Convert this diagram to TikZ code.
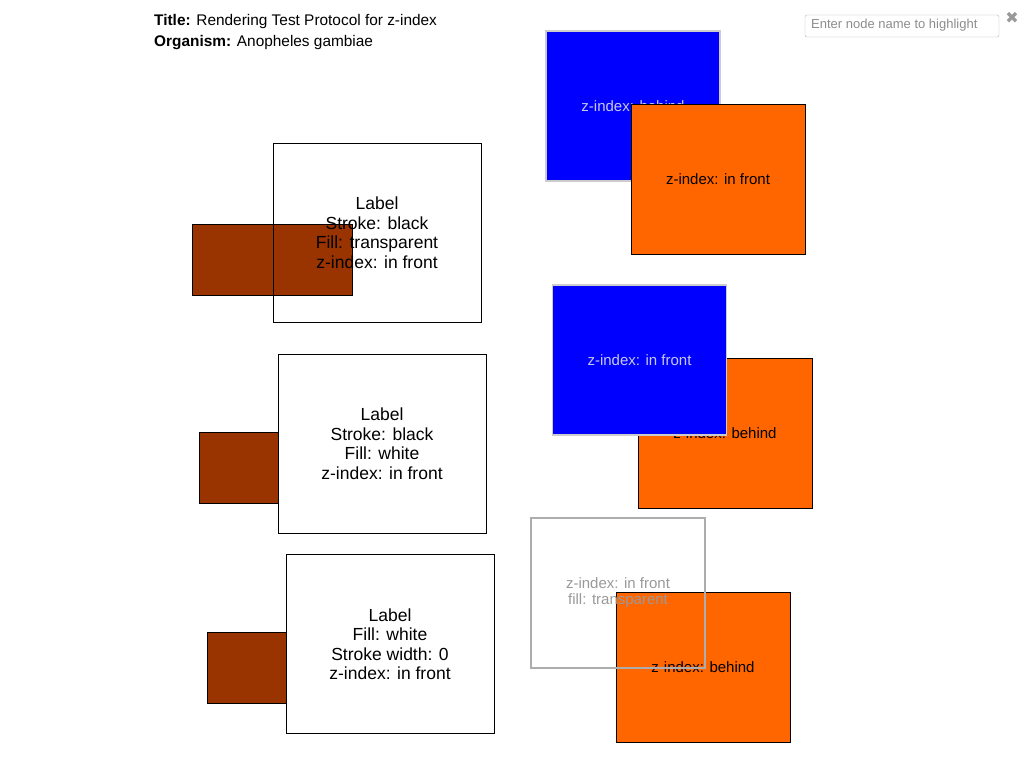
\documentclass[tikz,border=0pt]{standalone}
\usepackage{fontspec}
\setmainfont{Liberation Sans}
\newfontfamily\symfont{DejaVu Sans}
\usetikzlibrary{positioning}
\definecolor{zblue}{RGB}{0, 0, 255}
\definecolor{zorange}{RGB}{255, 102, 0}
\definecolor{zbrown}{RGB}{153, 51, 0}
\definecolor{zpale}{RGB}{200, 200, 235}
\definecolor{zgrey}{RGB}{153, 153, 153}

\begin{document}
\begin{tikzpicture}[x=1pt, y=-1pt,
    box/.style={rectangle, inner sep=0pt, outer sep=0pt, minimum width=174pt, minimum height=150pt},
    bluebox/.style={box, fill=zblue, draw=black!20, line width=1.2pt, text=zpale, font=\fontsize{15}{16}\selectfont},
    orangebox/.style={box, fill=zorange, draw=black, line width=1pt, font=\fontsize{15}{16}\selectfont},
    ghostbox/.style={box, draw=zgrey!80, line width=1.2pt, text=zgrey, align=center, font=\fontsize{15}{16}\selectfont},
    brownbox/.style={rectangle, inner sep=0pt, outer sep=0pt, fill=zbrown, draw=black, line width=1pt, minimum width=160pt, minimum height=71pt},
    labelbox/.style={rectangle, inner sep=0pt, outer sep=0pt, draw=black, line width=1pt, minimum width=208pt, minimum height=179pt, align=center, font=\fontsize{17.5}{19.5}\selectfont}]
  \useasboundingbox (0,0) rectangle (1024,768);
  % header
  \node[anchor=west, inner sep=0pt, font=\fontsize{15.4}{16}\selectfont] (title) at (154,21.5) {\textbf{Title:} Rendering Test Protocol for z-index};
  \node[anchor=west, inner sep=0pt, font=\fontsize{15.4}{16}\selectfont] (organism) at (154,42.5) {\textbf{Organism:} Anopheles gambiae};
  \node[rectangle, rounded corners=2pt, draw=black!30, minimum width=194pt, minimum height=22pt, inner sep=0pt] (search) at (902,26) {};
  \node[anchor=west, inner sep=0pt, text=black!45, font=\fontsize{13}{14}\selectfont] (hint) at (811,25) {Enter node name to highlight};
  \node[text=black!40, inner sep=0pt, font=\symfont\fontsize{16}{16}\selectfont] (close) at (1012,18) {✖};

  % left column
  \node[brownbox] (brownA) at (272,259.5) {};
  \node[labelbox] (labelA) at (377,232.5) {Label\\Stroke: black\\Fill: transparent\\z-index: in front};

  \node[brownbox] (brownB) at (279,468) {};
  \node[labelbox, fill=white] (labelB) at (382,443.5) {Label\\Stroke: black\\Fill: white\\z-index: in front};

  \node[brownbox] (brownC) at (287,667.5) {};
  \node[labelbox, fill=white, line width=0.8pt] (labelC) at (390,644) {Label\\Fill: white\\Stroke width: 0\\z-index: in front};

  % right column
  \node[bluebox] (blueA) at (633,106) {z-index: behind};
  \node[orangebox] (orangeA) at (718,179.5) {z-index: in front};

  \node[orangebox] (orangeB) at (725,433.5) {z-index: behind};
  \node[bluebox] (blueB) at (639.5,360) {z-index: in front};

  \node[orangebox] (orangeC) at (703,667.5) {z-index: behind};
  \node[ghostbox] (ghost) at (618,593) {z-index: in front\\fill: transparent};
\end{tikzpicture}
\end{document}
